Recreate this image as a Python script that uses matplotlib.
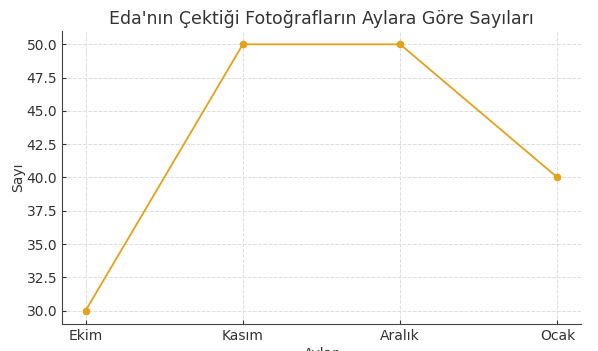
import matplotlib
matplotlib.use("Agg")
import matplotlib.pyplot as plt

months = ["Ekim", "Kasım", "Aralık", "Ocak"]
counts = [30, 50, 50, 40]

fig = plt.figure(figsize=(5.98, 3.51), dpi=100)
ax = fig.add_axes([0.1037, 0.077, 0.8679, 0.8347])

ax.plot(months, counts, marker="o", color="#E3A21A", linewidth=1.3, markersize=4.5)

# title / labels
ax.set_title("Eda'nın Çektiği Fotoğrafların Aylara Göre Sayıları", fontsize=12.5, color="#333333", pad=5)
ax.set_xlabel("Aylar", fontsize=10, color="#333333", labelpad=3)
ax.set_ylabel("Sayı", fontsize=10, color="#333333", labelpad=1)

ax.grid(True, linestyle="--", color="#dddddd", linewidth=0.7)
ax.set_axisbelow(True)
ax.spines["top"].set_visible(False)
ax.spines["right"].set_visible(False)
for s in ["left", "bottom"]:
    ax.spines[s].set_color("#444444")
ax.tick_params(direction="in", colors="#333333", labelsize=10, length=3)

fig.savefig("out.png", dpi=100)
